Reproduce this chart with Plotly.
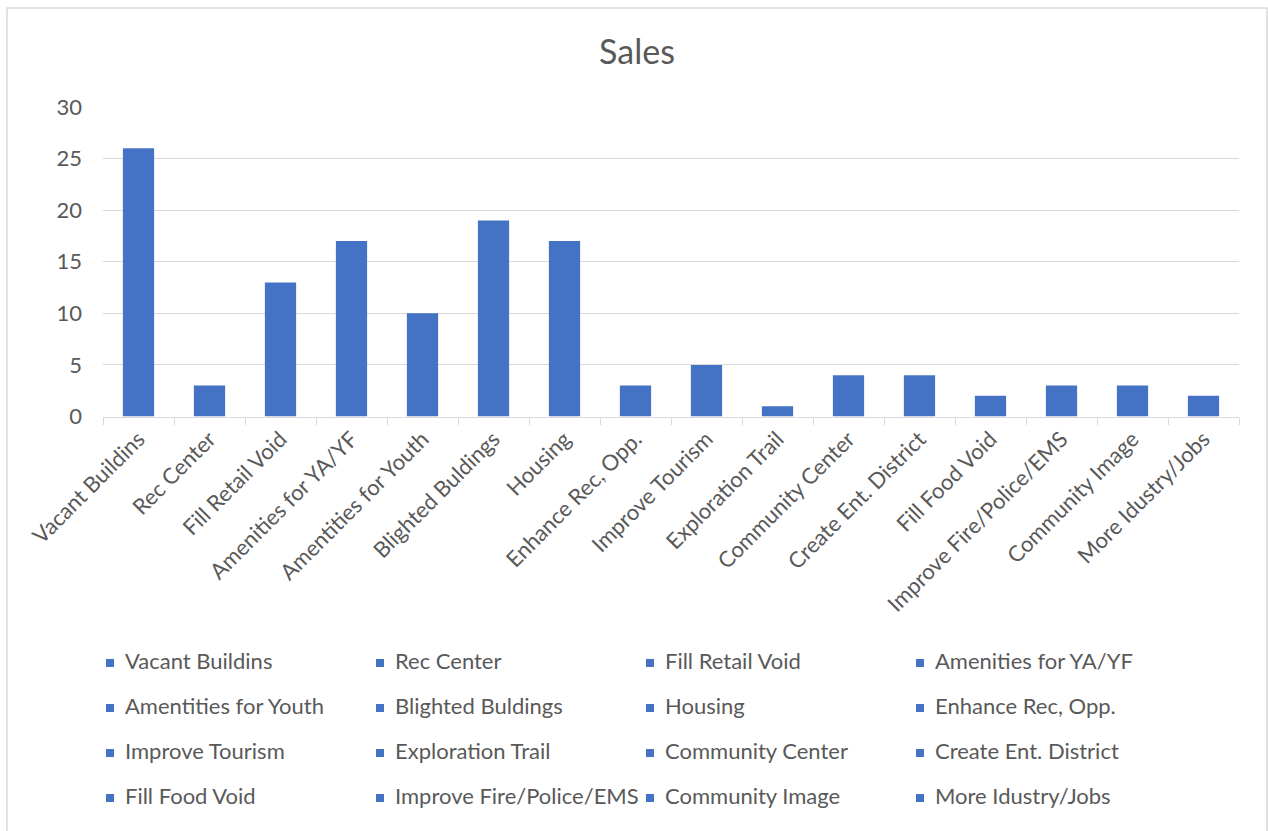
import plotly.graph_objects as go

categories = ["Vacant Buildins", "Rec Center", "Fill Retail Void", "Amenities for YA/YF",
              "Amentities for Youth", "Blighted Buldings", "Housing", "Enhance Rec, Opp.",
              "Improve Tourism", "Exploration Trail", "Community Center", "Create Ent. District",
              "Fill Food Void", "Improve Fire/Police/EMS", "Community Image", "More Idustry/Jobs"]
sales = [26, 3, 13, 17, 10, 19, 17, 3, 5, 1, 4, 4, 2, 3, 3, 2]
y_ticks = [0, 5, 10, 15, 20, 25, 30]

W, H = 1268, 831
BAR = "#4472C4"
TXT = "#595959"
GRID = "#d9d9d9"
FONT = "Lato, Carlito, Calibri, sans-serif"
CLEAR = "rgba(0,0,0,0)"

fig = go.Figure()
fig.add_trace(go.Bar(x=categories, y=sales, marker=dict(color=BAR, line=dict(width=0)),
                     showlegend=False, hoverinfo="skip"))

# legend drawn as a grid of markers with labels (4 columns)
ncol = 4
lx = [110 + 270 * (i % ncol) for i in range(len(categories))]
ly = [663 + 45 * (i // ncol) for i in range(len(categories))]
fig.add_trace(go.Scatter(x=lx, y=ly, mode="markers",
                         marker=dict(symbol="square", size=8, color=BAR),
                         xaxis="x2", yaxis="y2", showlegend=False, hoverinfo="skip",
                         cliponaxis=False))
fig.add_trace(go.Scatter(x=[v + 15 for v in lx], y=ly, mode="text", text=categories,
                         textposition="middle right",
                         textfont=dict(family=FONT, size=22, color=TXT),
                         xaxis="x2", yaxis="y2", showlegend=False, hoverinfo="skip",
                         cliponaxis=False))

x0, x1 = 103 / W, 1239 / W
y0, y1 = 1 - 416.5 / H, 1 - 107 / H

fig.update_layout(
    width=W, height=H, autosize=False,
    margin=dict(l=0, r=0, t=0, b=0, pad=0, autoexpand=False),
    paper_bgcolor="white", plot_bgcolor=CLEAR,
    bargap=0.56,
    title=dict(text="Sales", x=637 / W, xanchor="center", y=1 - 52 / H, yanchor="middle",
               font=dict(family=FONT, size=34, color=TXT)),
    xaxis=dict(domain=[x0, x1], showline=True, linecolor=GRID, linewidth=1.3,
               ticks="outside", tickson="boundaries", ticklen=7, tickcolor=GRID, tickwidth=1.3,
               tickangle=-45, tickfont=dict(family=FONT, size=22, color=TXT),
               showgrid=False, zeroline=False, fixedrange=True, automargin=False),
    yaxis=dict(domain=[y0, y1], range=[0, 30], tickvals=y_ticks,
               showgrid=True, gridcolor=GRID, gridwidth=1.3, zeroline=False, showline=False,
               ticks="", ticklabelstandoff=20, automargin=False,
               tickfont=dict(family=FONT, size=22, color=TXT), fixedrange=True),
    xaxis2=dict(domain=[0, 1], range=[0, W], visible=False, anchor="y2", fixedrange=True,
                automargin=False),
    yaxis2=dict(domain=[0, 1], range=[H, 0], visible=False, anchor="x2", fixedrange=True,
                automargin=False),
    shapes=[dict(type="rect", xref="paper", yref="paper", x0=7 / W, x1=1267 / W,
                 y0=-0.05, y1=1 - 8 / H, line=dict(color=GRID, width=1.5), layer="below")],
    showlegend=False,
)

fig.write_html("out.html", config={"displayModeBar": False},
               post_script="document.body.style.margin='0';document.body.style.overflow='hidden';"
                           "document.documentElement.style.overflow='hidden';")
